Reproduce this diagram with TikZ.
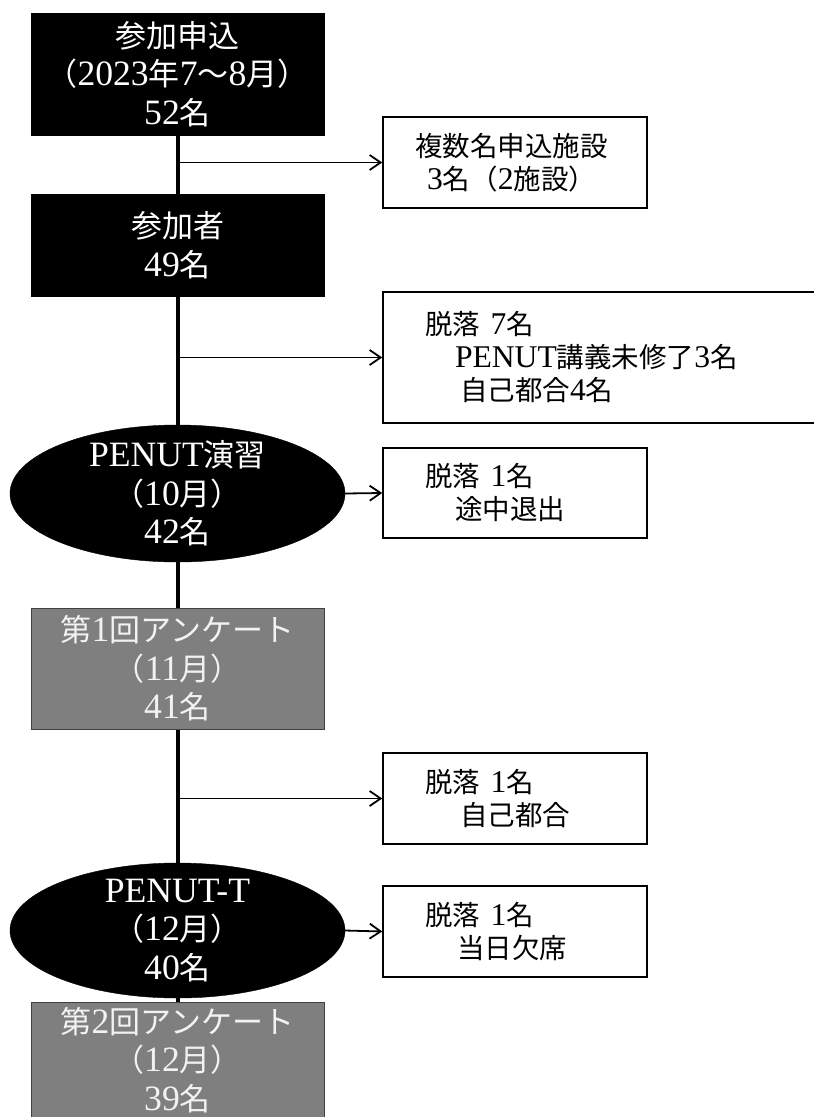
\documentclass[tikz,border=0pt]{standalone}
\usepackage{fontspec}
\setmainfont{Liberation Serif}[Scale=1.15]
\newfontfamily\jpf{Noto Sans CJK JP}
\newcommand\J[1]{{\jpf #1}}
\usetikzlibrary{shapes.geometric,arrows.meta}
\definecolor{boxgray}{HTML}{7F7F7F}
\definecolor{edgegray}{HTML}{404040}
\definecolor{graytext}{HTML}{F2F2F2}
\begin{document}
\begin{tikzpicture}[x=1pt,y=-1pt,
 mainfont/.style={font=\fontsize{31}{38.5}\selectfont},
 sidefont/.style={font=\fontsize{27.5}{33}\selectfont},
 blackbox/.style={rectangle,fill=black,draw=black,text=white,minimum width=293pt,inner sep=0pt,align=center,mainfont},
 graybox/.style={rectangle,fill=boxgray,draw=edgegray,line width=1pt,text=graytext,minimum width=293pt,inner sep=0pt,align=center,mainfont},
 blackell/.style={ellipse,fill=black,draw=black,text=white,minimum width=335pt,inner sep=-25pt,align=center,mainfont},
 sidebox/.style={rectangle,draw=black,line width=1.5pt,fill=white,text=black,inner sep=0pt,align=left,sidefont},
 spine/.style={line width=4pt},
 arr/.style={line width=1.8pt,-{Straight Barb[length=11pt,width=15pt,line width=1.8pt]}}
]
\clip (0,0) rectangle (814,1117);
\fill[white] (0,0) rectangle (814,1117);
% main column
\node[blackbox,minimum height=122pt] (b1) at (177.5,74) {\J{参加申込}\\\J{（}2023\J{年}7\J{～}8\J{月）}\\52\J{名}};
\node[blackbox,minimum height=102pt] (b2) at (177.5,245) {\J{参加者}\\49\J{名}};
\node[blackell,minimum height=137pt] (e1) at (177.5,493.5) {PENUT\J{演習}\\\J{（}10\J{月）}\\42\J{名}};
\node[graybox,minimum height=121pt] (b5) at (177.5,668.5) {\J{第}1\J{回アンケート}\\\J{（}11\J{月）}\\41\J{名}};
\node[blackell,minimum height=135pt] (e2) at (177.5,930.5) {PENUT-T\\\J{（}12\J{月）}\\40\J{名}};
\node[graybox,minimum height=116pt] (b8) at (177.5,1060) {\J{第}2\J{回アンケート}\\\J{（}12\J{月）}\\39\J{名}};
% side boxes
\node[sidebox,minimum width=264pt,text width=264pt,minimum height=91pt] (s1) at (515,162.5)
  {\hspace*{32pt}\J{複数名申込施設}\\\hspace*{44pt}3\J{名（}2\J{施設）}};
\node[sidebox,minimum width=447pt,text width=447pt,minimum height=131pt] (s3) at (606.5,357.5)
  {\hspace*{42pt}\J{脱落} 7\J{名}\\\hspace*{72pt}PENUT\J{講義未修了}3\J{名}\\\hspace*{77pt}\J{自己都合}4\J{名}};
\node[sidebox,minimum width=264pt,text width=264pt,minimum height=90pt] (s4) at (515,493)
  {\hspace*{42pt}\J{脱落} 1\J{名}\\\hspace*{72pt}\J{途中退出}};
\node[sidebox,minimum width=264pt,text width=264pt,minimum height=91pt] (s6) at (515,798.5)
  {\hspace*{42pt}\J{脱落} 1\J{名}\\\hspace*{77pt}\J{自己都合}};
\node[sidebox,minimum width=264pt,text width=264pt,minimum height=91pt] (s7) at (515,931.5)
  {\hspace*{42pt}\J{脱落} 1\J{名}\\\hspace*{74pt}\J{当日欠席}};
% spine
\draw[spine] (b1.south) -- (b2.north);
\draw[spine] (b2.south) -- (e1.north);
\draw[spine] (e1.south) -- (b5.north);
\draw[spine] (b5.south) -- (e2.north);
\draw[spine] (e2.south) -- (b8.north);
% junctions and arrows
\coordinate (j1) at (177.5,162.5);
\coordinate (j3) at (177.5,357.5);
\coordinate (j6) at (177.5,798.5);
\draw[arr] (j1) -- (s1.west);
\draw[arr] (j3) -- (s3.west);
\draw[arr] (e1.east) -- (s4.west);
\draw[arr] (j6) -- (s6.west);
\draw[arr] (e2.east) -- (s7.west);
\end{tikzpicture}
\end{document}
